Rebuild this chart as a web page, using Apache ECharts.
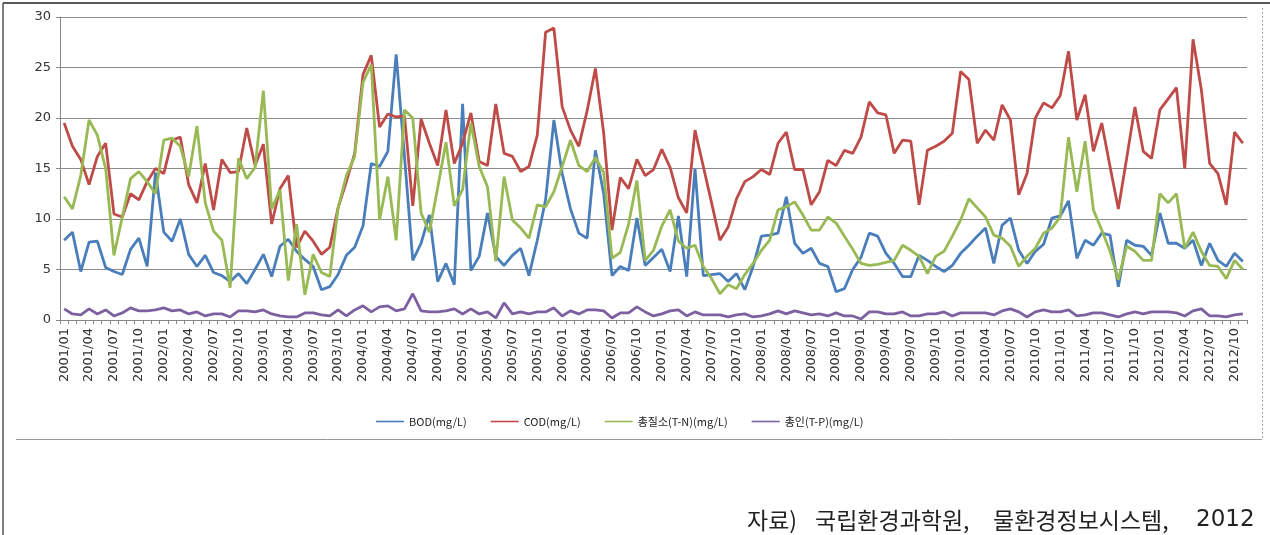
<!DOCTYPE html>
<html>
<head>
<meta charset="utf-8">
<script src="https://cdn.jsdelivr.net/npm/echarts@6/dist/echarts.min.js"></script>
<style>
html,body{margin:0;padding:0;background:#fff;}
#c{width:1270px;height:535px;}
</style>
</head>
<body>
<div id="c"></div>
<script>
// categories: monthly 2001/01 .. 2012/11
const years = [2001,2002,2003,2004,2005,2006,2007,2008,2009,2010,2011,2012];
const months = ['01','02','03','04','05','06','07','08','09','10','11','12'];
const categories = [];
years.forEach(y => months.forEach(m => categories.push(y + '/' + m)));
categories.length = 143;

const seriesNames = ['BOD(mg/L)', 'COD(mg/L)', '총질소(T-N)(mg/L)', '총인(T-P)(mg/L)'];

const bod = [
7.9,8.7,4.8,7.7,7.8,5.2,4.8,4.5,7.0,8.1,5.3,14.6,
8.7,7.8,10.0,6.5,5.3,6.4,4.7,4.4,3.8,4.6,3.6,5.0,
6.5,4.3,7.3,8.0,6.8,6.0,5.3,3.0,3.3,4.5,6.4,7.2,
9.3,15.5,15.2,16.7,26.3,16.2,5.9,7.6,10.4,3.8,5.6,3.5,
21.4,4.9,6.3,10.6,6.3,5.4,6.4,7.1,4.4,7.9,11.9,19.8,
14.5,11.0,8.6,8.1,16.8,12.5,4.4,5.3,4.9,10.1,5.4,6.2,
7.0,4.8,10.3,4.3,15.0,4.4,4.5,4.6,3.8,4.6,3.0,5.3,
8.3,8.4,8.6,12.2,7.6,6.6,7.1,5.6,5.3,2.8,3.1,5.0,
6.2,8.6,8.3,6.6,5.6,4.3,4.3,6.4,5.9,5.3,4.8,5.4,
6.6,7.4,8.3,9.1,5.6,9.4,10.1,6.9,5.6,6.8,7.5,10.1,
10.3,11.8,6.1,7.9,7.4,8.6,8.4,3.3,7.9,7.4,7.3,6.4,
10.6,7.6,7.6,7.1,7.9,5.4,7.6,5.9,5.3,6.6,5.8
];

const cod = [
19.5,17.2,15.9,13.4,16.2,17.5,10.5,10.2,12.5,11.9,13.7,15.0,
14.5,17.8,18.1,13.4,11.6,15.5,10.9,15.9,14.6,14.7,19.0,15.3,
17.4,9.5,13.0,14.3,7.2,8.8,7.8,6.5,7.2,11.1,13.7,16.5,
24.3,26.2,19.1,20.4,20.1,20.2,11.3,19.9,17.5,15.3,20.8,15.5,
17.5,20.5,15.7,15.3,21.4,16.5,16.2,14.7,15.2,18.3,28.5,28.9,
21.1,18.8,17.2,20.7,24.9,18.5,8.9,14.1,13.0,15.9,14.3,14.9,
16.9,15.1,12.1,10.6,18.8,15.2,11.6,7.9,9.2,12.0,13.7,14.2,
14.9,14.4,17.5,18.6,14.9,14.9,11.4,12.7,15.8,15.3,16.8,16.5,
18.1,21.6,20.5,20.3,16.5,17.8,17.7,11.4,16.8,17.2,17.7,18.5,
24.6,23.8,17.5,18.8,17.8,21.3,19.8,12.4,14.5,20.0,21.5,21.0,
22.2,26.6,19.8,22.3,16.7,19.5,15.2,11.0,16.0,21.1,16.7,16.0,
20.8,21.9,23.0,15.0,27.8,22.8,15.5,14.5,11.4,18.6,17.5
];

const tn = [
12.2,11.0,14.3,19.8,18.3,15.0,6.4,10.2,14.0,14.7,13.7,12.5,
17.8,18.0,17.2,14.2,19.2,11.6,8.8,7.9,3.2,16.0,14.0,15.1,
22.7,11.0,12.9,3.9,9.5,2.5,6.5,4.7,4.3,11.1,14.3,16.2,
23.5,25.3,9.9,14.2,7.9,20.8,20.0,10.6,8.7,13.1,17.6,11.3,
12.9,19.5,15.2,13.2,5.8,14.2,9.9,9.1,8.1,11.4,11.2,12.7,
15.2,17.8,15.3,14.7,16.1,14.6,6.1,6.7,9.5,13.8,5.9,6.9,
9.3,10.9,7.8,7.1,7.4,5.3,4.1,2.6,3.5,3.1,4.5,5.6,
6.9,7.9,10.9,11.2,11.7,10.4,8.9,8.9,10.2,9.6,8.3,7.0,
5.6,5.4,5.5,5.7,5.9,7.4,6.9,6.3,4.6,6.3,6.8,8.3,
9.9,12.0,11.1,10.2,8.4,8.1,7.3,5.3,6.3,7.1,8.6,9.1,
10.2,18.1,12.7,17.7,10.9,8.9,6.8,4.0,7.3,6.8,5.9,5.9,
12.5,11.6,12.5,7.1,8.7,6.8,5.4,5.3,4.1,5.9,5.0
];

const tp = [
1.1,0.6,0.5,1.1,0.6,1.0,0.4,0.7,1.2,0.9,0.9,1.0,
1.2,0.9,1.0,0.6,0.8,0.4,0.6,0.6,0.3,0.9,0.9,0.8,
1.0,0.6,0.4,0.3,0.3,0.7,0.7,0.5,0.4,1.0,0.4,1.0,
1.4,0.8,1.3,1.4,0.9,1.1,2.6,0.9,0.8,0.8,0.9,1.1,
0.6,1.1,0.6,0.8,0.2,1.7,0.6,0.8,0.6,0.8,0.8,1.2,
0.4,0.9,0.6,1.0,1.0,0.9,0.2,0.7,0.7,1.3,0.8,0.4,
0.6,0.9,1.0,0.4,0.8,0.5,0.5,0.5,0.3,0.5,0.6,0.3,
0.4,0.6,0.9,0.6,0.9,0.7,0.5,0.6,0.4,0.7,0.4,0.4,
0.1,0.8,0.8,0.6,0.6,0.8,0.4,0.4,0.6,0.6,0.8,0.4,
0.7,0.7,0.7,0.7,0.5,0.9,1.1,0.8,0.3,0.8,1.0,0.8,
0.8,1.0,0.4,0.5,0.7,0.7,0.5,0.3,0.6,0.8,0.6,0.8,
0.8,0.8,0.7,0.4,0.9,1.1,0.4,0.4,0.3,0.5,0.6
];

const yTicks = [0,5,10,15,20,25,30];
const colors = ['#4a7ebb','#be4b48','#98b954','#7d60a0'];
const sourceParts = ['자료)', '국립환경과학원,', '물환경정보시스템,', '2012'];

const chart = echarts.init(document.getElementById('c'), null, {renderer:'canvas'});
const mk = (name, data, color) => ({
  name, type:'line', data, symbol:'none', showSymbol:false,
  lineStyle:{width:2.8, color}, itemStyle:{color}, animation:false
});
const srcStyle = (t, x, font) => ({
  type:'text', x:x, y:520, silent:true,
  style:{text:t, fontSize:23, fill:'#222', fontFamily:font, textVerticalAlign:'middle', verticalAlign:'middle'}
});
chart.setOption({
  animation:false,
  backgroundColor:'#fff',
  color: colors,
  grid:{left:60, right:23, top:17, height:303, containLabel:false},
  xAxis:{
    type:'category', data:categories, boundaryGap:true,
    axisLine:{lineStyle:{color:'#888', width:1}},
    axisTick:{show:true, interval:0, length:4, lineStyle:{color:'#888'}},
    axisLabel:{interval:2, rotate:90, fontSize:13, color:'#333', margin:8,
      fontFamily:'"DejaVu Sans", sans-serif'},
    splitLine:{show:false}
  },
  yAxis:{
    type:'value', min:yTicks[0], max:yTicks[yTicks.length-1], interval:5,
    axisLine:{show:true, lineStyle:{color:'#888'}},
    axisTick:{show:true, length:4, lineStyle:{color:'#888'}},
    axisLabel:{fontSize:13, color:'#333', margin:9,
      fontFamily:'"DejaVu Sans", sans-serif'},
    splitLine:{lineStyle:{color:'#8c8c8c', width:1}}
  },
  legend:{
    data:seriesNames, left:371, top:411, itemWidth:28, itemHeight:10, itemGap:24,
    icon:'path://M0,4.2L28,4.2L28,5.8L0,5.8Z',
    textStyle:{fontSize:11, color:'#222', fontFamily:'"Noto Sans CJK KR", "DejaVu Sans", sans-serif'}
  },
  series:[
    mk(seriesNames[0], bod, colors[0]),
    mk(seriesNames[1], cod, colors[1]),
    mk(seriesNames[2], tn, colors[2]),
    mk(seriesNames[3], tp, colors[3])
  ],
  graphic:[
    {type:'line', shape:{x1:3,y1:3,x2:1270,y2:3}, style:{stroke:'#222', lineWidth:1.5}, silent:true},
    {type:'line', shape:{x1:3,y1:3,x2:3,y2:535}, style:{stroke:'#555', lineWidth:1.5}, silent:true},
    {type:'line', shape:{x1:16,y1:439.5,x2:1262,y2:439.5}, style:{stroke:'#999', lineWidth:1}, silent:true},
    {type:'line', shape:{x1:1262.5,y1:8,x2:1262.5,y2:439}, style:{stroke:'#aaa', lineWidth:1, lineDash:[2,2]}, silent:true},
    srcStyle(sourceParts[0], 747, '"Noto Sans CJK KR", sans-serif'),
    srcStyle(sourceParts[1], 815, '"Noto Sans CJK KR", sans-serif'),
    srcStyle(sourceParts[2], 993, '"Noto Sans CJK KR", sans-serif'),
    srcStyle(sourceParts[3], 1196, '"DejaVu Sans", sans-serif')
  ]
});
</script>
</body>
</html>
